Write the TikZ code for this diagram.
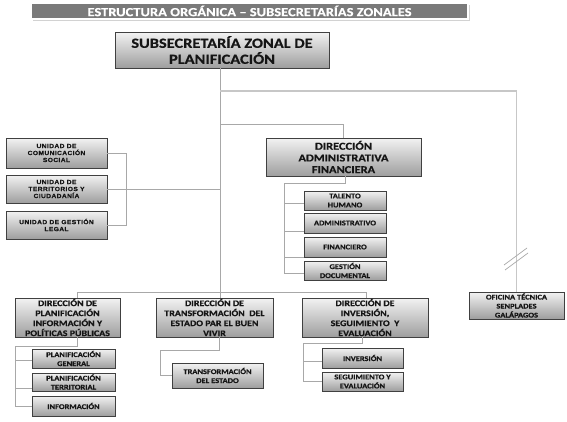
\documentclass[tikz,border=0pt]{standalone}
\usepackage{fontspec}
\usetikzlibrary{shadows,calc}
\newfontfamily\carl[FakeStretch=1.17, FakeBold=0.6]{Carlito Bold}
\newfontfamily\arl[FakeStretch=1.12, LetterSpace=6, FakeBold=0.4]{Liberation Sans Bold}
\definecolor{linegray}{HTML}{A8A8A8}
\definecolor{titlegray}{HTML}{7A7A7A}
\definecolor{boxtext}{HTML}{151515}
\tikzset{
  box/.style={draw=black!75, line width=0.8pt, top color=black!5, bottom color=black!38,
    inner sep=0pt, align=center, text=boxtext,
    drop shadow={shadow xshift=1.3pt, shadow yshift=-1.3pt, fill=black!65, opacity=0.85}},
  titlebox/.style={draw=white, line width=2pt, fill=titlegray, inner sep=0pt, text=white,
    font=\carl\fontsize{12.4}{14}\selectfont,
    drop shadow={shadow xshift=1.5pt, shadow yshift=-1.5pt, fill=black!25, opacity=0.7}},
  mainfont/.style={font=\carl\fontsize{14}{16}\selectfont},
  dirfont/.style={font=\carl\fontsize{8.5}{10}\selectfont},
  daffont/.style={font=\carl\fontsize{10.6}{11.7}\selectfont},
  subfont/.style={font=\carl\fontsize{7.2}{9}\selectfont},
  unifont/.style={font=\arl\fontsize{6}{7}\selectfont},
  conn/.style={draw=linegray, line width=0.9pt},
}
\begin{document}
\begin{tikzpicture}[x=1pt, y=-1pt]
\fill[white] (0,0) rectangle (567,421);
\useasboundingbox (0,0) rectangle (567,421);

% title and main
\node[titlebox, minimum width=437pt, minimum height=16pt] (title) at (249.5,11) {ESTRUCTURA ORGÁNICA – SUBSECRETARÍAS ZONALES};
\node[box, mainfont, minimum width=214pt, minimum height=36pt] (main) at (222,50) {SUBSECRETARÍA ZONAL DE\\PLANIFICACIÓN};

% left units
\node[box, unifont, minimum width=101pt, minimum height=30pt] (u1) at (56.5,153) {UNIDAD DE\\COMUNICACIÓN\\SOCIAL};
\node[box, unifont, minimum width=101pt, minimum height=28pt] (u2) at (56.5,189) {UNIDAD DE\\TERRITORIOS Y\\CIUDADANÍA};
\node[box, unifont, minimum width=101pt, minimum height=28pt] (u3) at (56.5,225) {UNIDAD DE GESTIÓN\\LEGAL};

% DAF
\node[box, daffont, minimum width=155pt, minimum height=38pt] (daf) at (343.5,157) {DIRECCIÓN\\ADMINISTRATIVA\\FINANCIERA};
\node[box, subfont, minimum width=82pt, minimum height=19pt] (tal) at (345,200.5) {TALENTO\\HUMANO};
\node[box, subfont, minimum width=82pt, minimum height=20pt] (adm) at (345,223) {ADMINISTRATIVO};
\node[box, subfont, minimum width=82pt, minimum height=20pt] (fin) at (345,247) {FINANCIERO};
\node[box, subfont, minimum width=82pt, minimum height=19pt] (ges) at (345,270.5) {GESTIÓN\\DOCUMENTAL};

% oficina
\node[box, subfont, minimum width=95pt, minimum height=27pt] (ofi) at (516.5,305.5) {OFICINA TÉCNICA\\SENPLADES\\GALÁPAGOS};

% bottom directions
\node[box, dirfont, minimum width=105pt, minimum height=39pt] (dpipp) at (67.5,317.5) {DIRECCIÓN DE\\PLANIFICACIÓN\\INFORMACIÓN Y\\POLÍTICAS PÚBLICAS};
\node[box, dirfont, minimum width=117pt, minimum height=39pt] (dte) at (214.5,317.5) {DIRECCIÓN DE\\TRANSFORMACIÓN\ \ DEL\\ESTADO PAR EL BUEN\\VIVIR};
\node[box, dirfont, minimum width=126pt, minimum height=39pt] (dise) at (365,317.5) {DIRECCIÓN DE\\INVERSIÓN,\\SEGUIMIENTO\ \ Y\\EVALUACIÓN};

\node[box, subfont, minimum width=83pt, minimum height=19pt] (gen) at (73.5,358.5) {PLANIFICACIÓN\\GENERAL};
\node[box, subfont, minimum width=83pt, minimum height=18pt] (ter) at (73.5,382) {PLANIFICACIÓN\\TERRITORIAL};
\node[box, subfont, minimum width=83pt, minimum height=20pt] (inf) at (73.5,406) {INFORMACIÓN};
\node[box, subfont, minimum width=91pt, minimum height=25pt] (tra) at (217.5,375.5) {TRANSFORMACIÓN\\DEL ESTADO};
\node[box, subfont, minimum width=81pt, minimum height=20pt] (inv) at (362.5,358) {INVERSIÓN};
\node[box, subfont, minimum width=81pt, minimum height=19pt] (seg) at (362.5,381.5) {SEGUIMIENTO Y\\EVALUACIÓN};

% connectors
\coordinate (trunk) at (220,292);
\coordinate (j1) at (220,91);
\coordinate (j2) at (220,124);
\draw[conn] (main.south -| trunk) -- (trunk |- dte.north);
\draw[conn, line width=1.3pt, draw=black!22] (j1) -| (ofi.north);
\draw[conn] (j2) -| (daf.north);
\draw[conn] (u2.east) -- (u2.east -| trunk);
\coordinate (lb) at (126,0);
\draw[conn] (u1.east) -- (u1.east -| lb) -- (u3.east -| lb) -- (u3.east);

\coordinate (dafk) at (345,183);
\coordinate (dafv) at (284,183);
\coordinate (t1) at (284,203);
\coordinate (t2) at (284,231);
\coordinate (t3) at (284,257);
\coordinate (t4) at (284,273);
\draw[conn] (dafk |- daf.south) -- (dafk) -- (dafv) -- (t4) -- (t4 -| ges.west);
\draw[conn] (t1) -- (t1 -| tal.west);
\draw[conn] (t2) -- (t2 -| adm.west);
\draw[conn] (t3) -- (t3 -| fin.west);

\coordinate (b1) at (77,292);
\coordinate (b2) at (366,292);
\draw[conn] (b1 |- dpipp.north) -- (b1) -- (b2) -- (b2 |- dise.north);

\coordinate (k1) at (77,346);
\coordinate (k2) at (15,346);
\coordinate (s1) at (15,360);
\coordinate (s2) at (15,388);
\coordinate (s3) at (15,406);
\draw[conn] (k1 |- dpipp.south) -- (k1) -- (k2) -- (s3) -- (s3 -| inf.west);
\draw[conn] (s1) -- (s1 -| gen.west);
\draw[conn] (s2) -- (s2 -| ter.west);

\coordinate (m1) at (219,350);
\coordinate (m2) at (160,350);
\draw[conn] (m1 |- dte.south) -- (m1) -- (m2) -- (m2 |- tra.west) -- (tra.west);

\coordinate (n1) at (362,343);
\coordinate (n2) at (303,343);
\coordinate (r1) at (303,361);
\coordinate (r2) at (303,381);
\draw[conn] (n1 |- dise.south) -- (n1) -- (n2) -- (r2) -- (r2 -| seg.west);
\draw[conn] (r1) -- (r1 -| inv.west);

% break marks
\draw[conn, line width=0.7pt] (504,265) -- (527,248);
\draw[conn, line width=0.7pt] (505,270) -- (528,253);
\end{tikzpicture}
\end{document}
